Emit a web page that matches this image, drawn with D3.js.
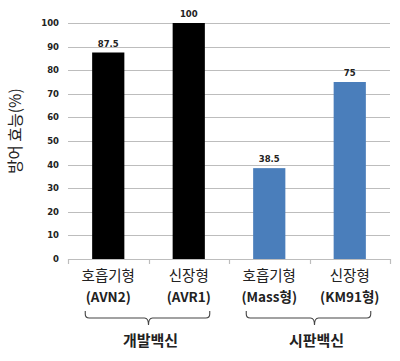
<!DOCTYPE html>
<html><head><meta charset="utf-8">
<script src="https://cdn.jsdelivr.net/npm/d3@7"></script>
<style>html,body{margin:0;padding:0;background:#fff;}svg{display:block;}</style>
</head><body>
<svg id="chart" width="400" height="361"></svg>
<script>
// ---- data ----
const categories = ["AVN2", "AVR1", "Mass", "KM91"];
const typeLabels = ["호흡기형", "신장형", "호흡기형", "신장형"];
const codeLabels = ["(AVN2)", "(AVR1)", "(Mass형)", "(KM91형)"];
const values = [87.5, 100, 38.5, 75];
const valueLabels = ["87.5", "100", "38.5", "75"];
const groupOf = [0, 0, 1, 1];
const groupNames = ["개발백신", "시판백신"];
const yTicks = [0, 10, 20, 30, 40, 50, 60, 70, 80, 90, 100];
const yTitle = "방어 효능(%)";

// ---- layout / style ----
const barColors = ["#000000", "#000000", "#4a7ebb", "#4a7ebb"];
const plotL = 68, plotR = 390, plotT = 23, plotB = 259;
const tipShift = [1, 6];
const korFont = "'Noto Sans CJK KR', 'Noto Sans', sans-serif";
const numFont = "'DejaVu Sans', 'Liberation Sans', sans-serif";

const svg = d3.select("#chart");

const x = d3.scaleBand().domain(categories).range([plotL, plotR])
  .paddingInner(0.6).paddingOuter(0.3);
const y = d3.scaleLinear().domain([0, 100]).range([plotB, plotT]);

// gridlines
svg.append("g").selectAll("line").data(yTicks.filter(d => d > 0)).join("line")
  .attr("x1", plotL).attr("x2", plotR)
  .attr("y1", d => Math.round(y(d)) + 0.5).attr("y2", d => Math.round(y(d)) + 0.5)
  .attr("stroke", "#bdbdbd").attr("stroke-width", 1.2);

// y tick labels
svg.append("g").selectAll("text").data(yTicks).join("text")
  .attr("x", plotL - 9).attr("y", d => y(d)).attr("dy", "0.35em")
  .attr("text-anchor", "end")
  .attr("font-family", numFont).attr("font-weight", "bold").attr("font-size", 8.5)
  .attr("fill", "#222").text(d => d);

// bottom axis line with category boundary ticks
svg.append("line").attr("x1", plotL).attr("x2", plotR)
  .attr("y1", plotB + 0.5).attr("y2", plotB + 0.5)
  .attr("stroke", "#bdbdbd").attr("stroke-width", 1.2);
const boundaryXs = [plotL].concat(categories.map((c, i) => i < categories.length - 1 ? (x(c) + x.bandwidth() + x(categories[i + 1])) / 2 : plotR));
svg.append("g").selectAll("line").data(boundaryXs).join("line")
  .attr("x1", d => Math.round(d) + 0.5).attr("x2", d => Math.round(d) + 0.5)
  .attr("y1", plotB).attr("y2", plotB + 5)
  .attr("stroke", "#bdbdbd").attr("stroke-width", 1.2);

// bars
svg.append("g").selectAll("rect").data(values).join("rect")
  .attr("x", (d, i) => x(categories[i])).attr("width", x.bandwidth())
  .attr("y", d => y(d)).attr("height", d => y(0) - y(d))
  .attr("fill", (d, i) => barColors[i]);

// value labels
svg.append("g").selectAll("text").data(values).join("text")
  .attr("x", (d, i) => x(categories[i]) + x.bandwidth() / 2)
  .attr("y", d => y(d) - 6)
  .attr("text-anchor", "middle")
  .attr("font-family", numFont).attr("font-weight", "bold").attr("font-size", 8.5)
  .attr("fill", "#222").text((d, i) => valueLabels[i]);

// category labels
const cx = c => x(c) + x.bandwidth() / 2;
svg.append("g").selectAll("text").data(categories).join("text")
  .attr("x", d => cx(d)).attr("y", 281)
  .attr("text-anchor", "middle").attr("font-family", korFont)
  .attr("font-size", 14.5).attr("fill", "#222")
  .text((d, i) => typeLabels[i]);
svg.append("g").selectAll("text").data(categories).join("text")
  .attr("x", d => cx(d)).attr("y", 302)
  .attr("text-anchor", "middle").attr("font-family", korFont)
  .attr("font-weight", "bold").attr("font-size", 13.5).attr("fill", "#222")
  .text((d, i) => codeLabels[i]);

// group braces
groupNames.forEach((g, gi) => {
  const members = categories.filter((c, i) => groupOf[i] === gi);
  const x0 = cx(members[0]) - 23;
  const x1 = cx(members[members.length - 1]) + 21;
  const tip = (x0 + x1) / 2 + tipShift[gi];
  const y0 = 311, y1 = 318, y2 = 325, r = 4;
  const p = d3.path();
  p.moveTo(x0, y0);
  p.lineTo(x0, y1 - r);
  p.quadraticCurveTo(x0, y1, x0 + r, y1);
  p.lineTo(tip - r, y1);
  p.quadraticCurveTo(tip, y1, tip, y2);
  p.quadraticCurveTo(tip, y1, tip + r, y1);
  p.lineTo(x1 - r, y1);
  p.quadraticCurveTo(x1, y1, x1, y1 - r);
  p.lineTo(x1, y0);
  svg.append("path").attr("d", p.toString())
    .attr("fill", "none").attr("stroke", "#444").attr("stroke-width", 1.1);
  svg.append("text").attr("x", tip + 2).attr("y", 346)
    .attr("text-anchor", "middle").attr("font-family", korFont)
    .attr("font-weight", "bold").attr("font-size", 15).attr("fill", "#222")
    .text(g);
});

// y axis title
svg.append("text")
  .attr("transform", `translate(21,${131}) rotate(-90)`)
  .attr("text-anchor", "middle").attr("font-family", korFont)
  .attr("font-size", 15.5).attr("fill", "#222")
  .text(yTitle);
</script>
</body></html>
